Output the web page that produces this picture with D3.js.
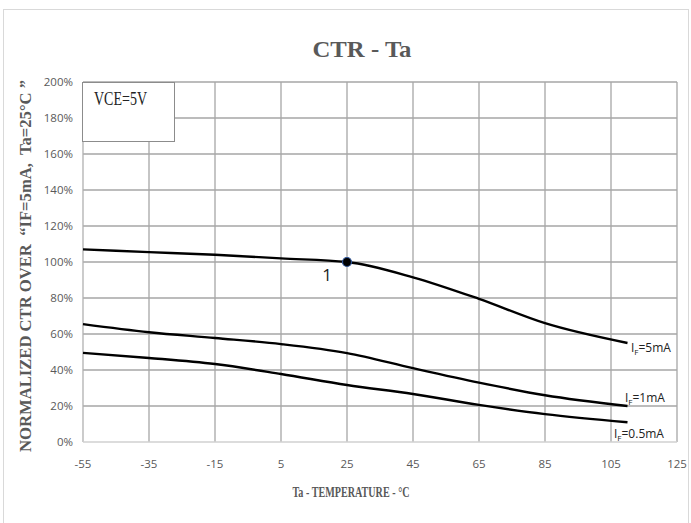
<!DOCTYPE html>
<html><head><meta charset="utf-8">
<script src="https://cdn.jsdelivr.net/npm/d3@7"></script>
<style>body{margin:0;background:#fff;} svg{display:block;}</style>
</head><body>
<svg id="c" width="691" height="523"></svg>
<script>
const temps = [-55, -35, -15, 5, 25, 45, 65, 85, 110];
const ctr5mA = [107, 105.5, 104, 102, 100, 91.5, 79.5, 66, 55];
const ctr1mA = [65.5, 61, 57.8, 54.4, 49.4, 41, 33, 26, 20];
const ctr05mA = [49.5, 46.7, 43.3, 37.8, 31.7, 26.7, 20.6, 15.5, 11];
const seriesNames = ["5mA", "1mA", "0.5mA"];
const xTicks = [-55, -35, -15, 5, 25, 45, 65, 85, 105, 125];
const yTicks = [0, 20, 40, 60, 80, 100, 120, 140, 160, 180, 200];
const markPoint = {t: 25, v: 100, label: "1"};

const svg = d3.select("#c");
const x = d3.scaleLinear().domain([-55, 125]).range([83, 677]);
const y = d3.scaleLinear().domain([0, 200]).range([442, 82]);

svg.append("rect").attr("x", 3.5).attr("y", 9.5).attr("width", 685).attr("height", 530)
  .attr("fill", "#fff").attr("stroke", "#d9d9d9");

const grid = svg.append("g");
grid.selectAll("line.v").data(xTicks.slice(1)).join("line")
  .attr("x1", d => x(d)).attr("x2", d => x(d)).attr("y1", y(200)).attr("y2", y(0))
  .attr("stroke", "#a6a6a6").attr("stroke-width", 1.3);
grid.selectAll("line.h").data(yTicks.slice(1)).join("line")
  .attr("y1", d => y(d)).attr("y2", d => y(d)).attr("x1", x(-55)).attr("x2", x(125))
  .attr("stroke", "#a6a6a6").attr("stroke-width", 1.3);
grid.append("line").attr("x1", x(-55)).attr("x2", x(-55)).attr("y1", y(200)).attr("y2", y(0))
  .attr("stroke", "#b0b0b0").attr("stroke-width", 1.3);
grid.append("line").attr("x1", x(-55)).attr("x2", x(125)).attr("y1", y(0)).attr("y2", y(0))
  .attr("stroke", "#d0d0d0").attr("stroke-width", 1.5);

const tickFont = "'Open Sans', 'Liberation Sans', sans-serif";
svg.append("g").selectAll("text").data(yTicks).join("text")
  .attr("x", 73).attr("y", d => y(d) + 4).attr("text-anchor", "end")
  .attr("font-family", tickFont).attr("font-size", 11.5).attr("fill", "#595959")
  .text(d => d + "%");
svg.append("g").selectAll("text").data(xTicks).join("text")
  .attr("x", d => x(d)).attr("y", 468).attr("text-anchor", "middle")
  .attr("font-family", tickFont).attr("font-size", 11.5).attr("fill", "#595959")
  .text(d => d);

// legend box
svg.append("rect").attr("x", 82.5).attr("y", 82.5).attr("width", 92).attr("height", 59)
  .attr("fill", "#fff").attr("stroke", "#8c8c8c");
svg.append("text").attr("x", 94).attr("y", 105).attr("font-family", "'Liberation Serif', serif")
  .attr("font-size", 18).attr("fill", "#222")
  .attr("textLength", 53).attr("lengthAdjust", "spacingAndGlyphs").text("VCE=5V");

const line = d3.line().x(d => x(d[0])).y(d => y(d[1])).curve(d3.curveMonotoneX);
[ctr5mA, ctr1mA, ctr05mA].forEach(vals => {
  svg.append("path").attr("d", line(temps.map((t, i) => [t, vals[i]])))
    .attr("fill", "none").attr("stroke", "#000").attr("stroke-width", 2.4);
});

// series labels
const labPos = [[631, 352], [625, 402], [614, 438]];
seriesNames.forEach((n, i) => {
  const t = svg.append("text").attr("x", labPos[i][0]).attr("y", labPos[i][1])
    .attr("font-family", tickFont).attr("font-size", 12).attr("fill", "#222");
  t.append("tspan").text("I");
  t.append("tspan").attr("font-size", 8).attr("dy", 3).text("F");
  t.append("tspan").attr("dy", -3).text("=" + n);
});

svg.append("circle").attr("cx", x(markPoint.t)).attr("cy", y(markPoint.v)).attr("r", 4.5)
  .attr("fill", "#000").attr("stroke", "#2f5597").attr("stroke-width", 1.2);
svg.append("text").attr("x", 327).attr("y", 281).attr("text-anchor", "middle")
  .attr("font-family", tickFont).attr("font-size", 17).attr("fill", "#222").text(markPoint.label);

// titles
svg.append("text").attr("x", 362).attr("y", 57).attr("text-anchor", "middle")
  .attr("font-family", "'Liberation Serif', serif").attr("font-weight", "bold")
  .attr("font-size", 23).attr("fill", "#595959")
  .attr("textLength", 99).attr("lengthAdjust", "spacingAndGlyphs").text("CTR - Ta");
svg.append("text").attr("x", 351).attr("y", 497).attr("text-anchor", "middle")
  .attr("font-family", "'Liberation Serif', serif").attr("font-weight", "bold")
  .attr("font-size", 15.5).attr("fill", "#595959")
  .attr("textLength", 117).attr("lengthAdjust", "spacingAndGlyphs").text("Ta - TEMPERATURE - °C");
svg.append("text").attr("transform", "translate(31,266) rotate(-90)").attr("text-anchor", "middle")
  .attr("font-family", "'Liberation Serif', serif").attr("font-weight", "bold")
  .attr("font-size", 16).attr("fill", "#595959")
  .attr("textLength", 372).attr("lengthAdjust", "spacingAndGlyphs")
  .text("NORMALIZED CTR OVER \u00a0\u201cIF=5mA,\u00a0 Ta=25\u00b0C \u201d");
</script>
</body></html>
